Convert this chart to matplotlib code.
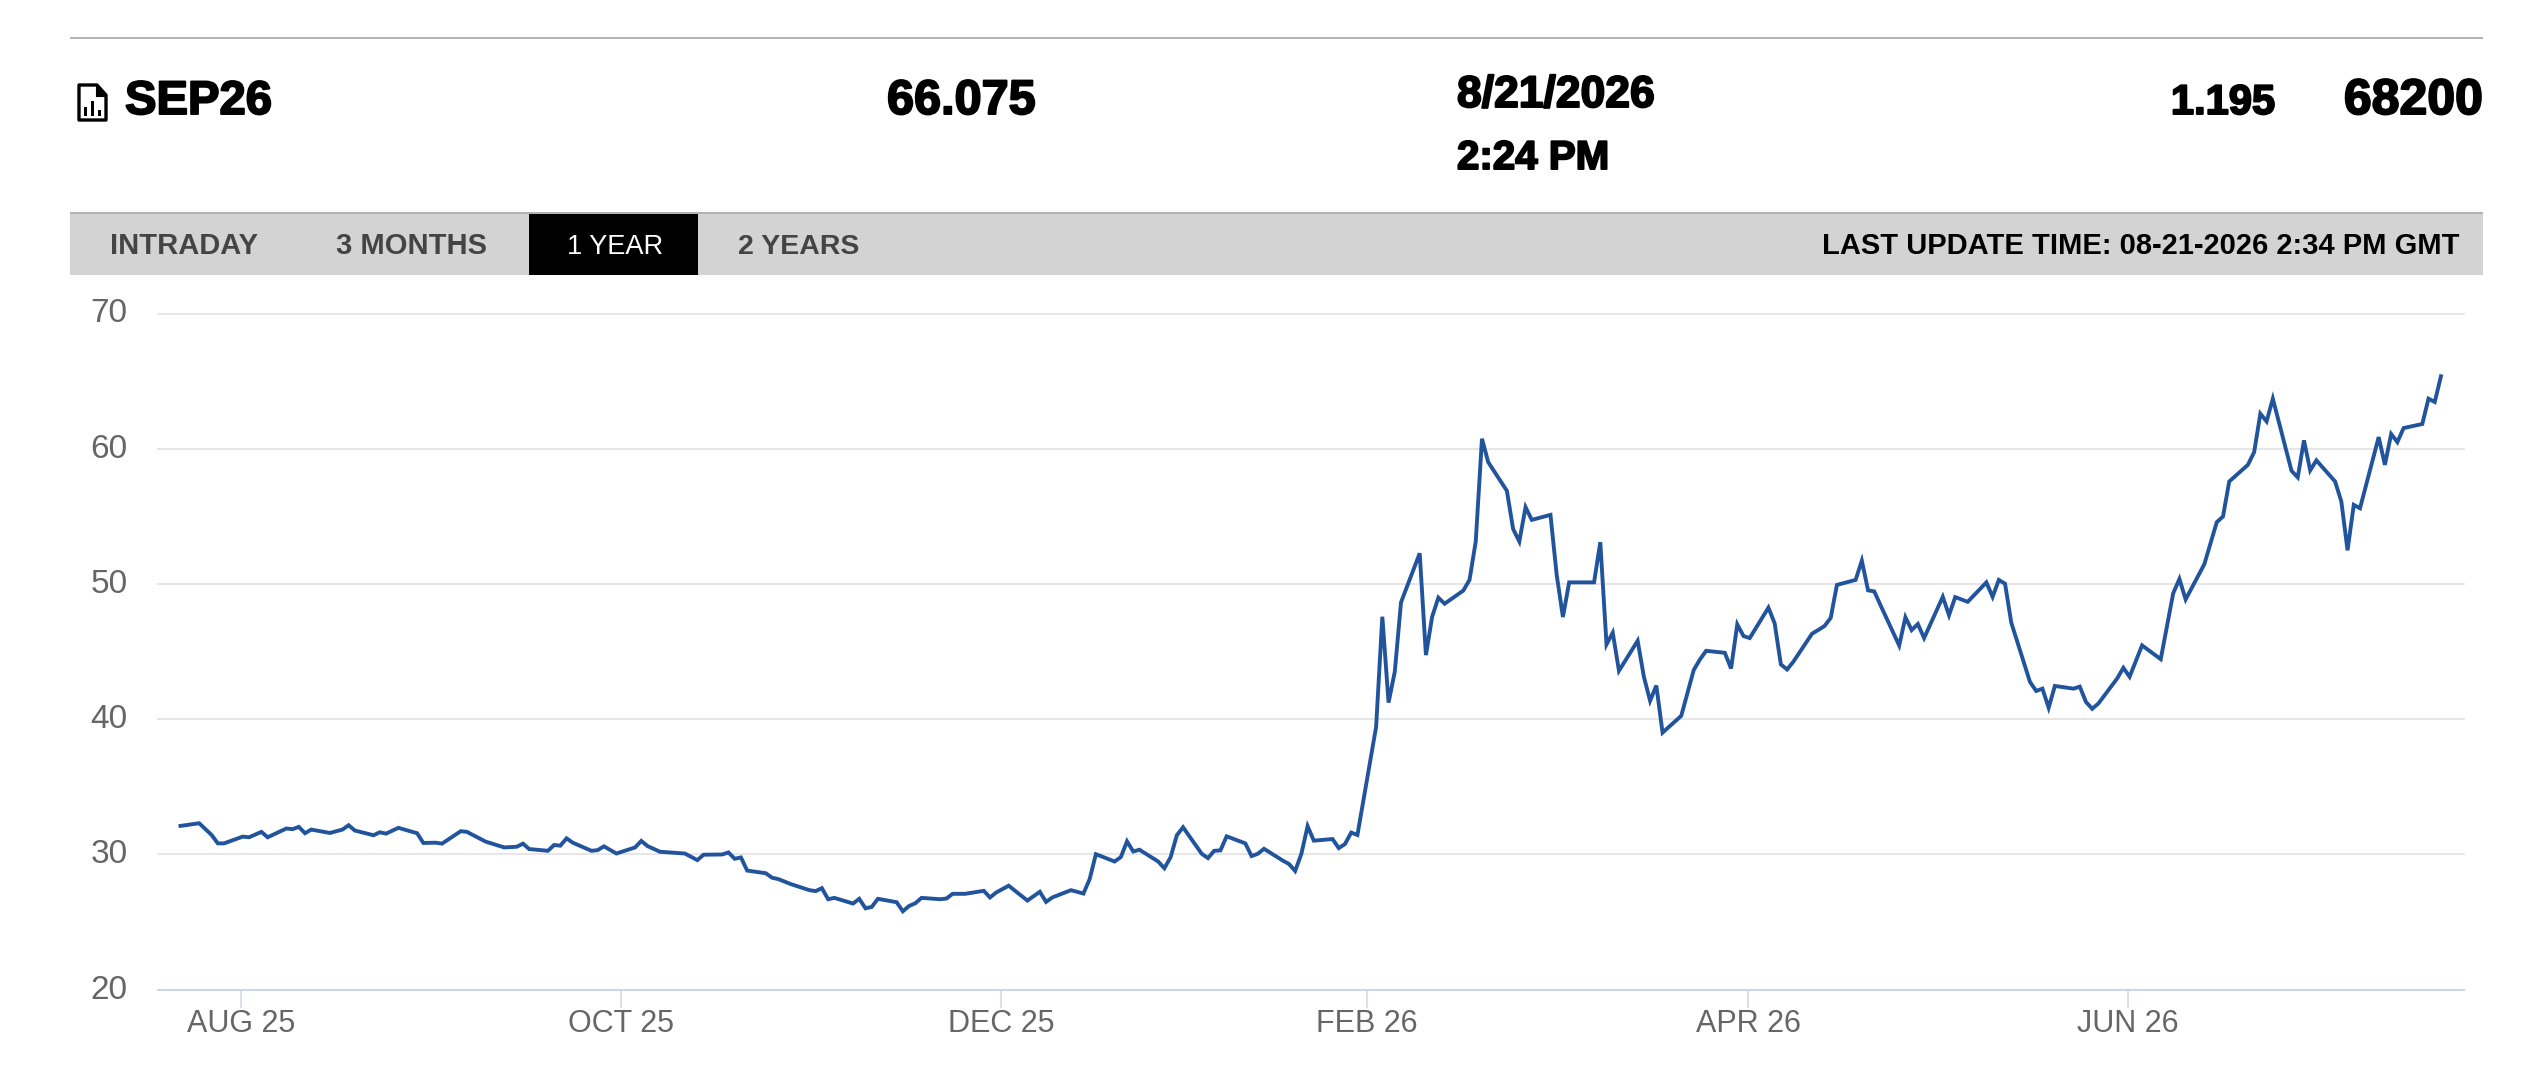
import numpy as np
import matplotlib
matplotlib.use("Agg")
import matplotlib.pyplot as plt
import matplotlib.dates as mdates
import matplotlib.patheffects as pe
from matplotlib.patches import Rectangle, Polygon
from matplotlib.transforms import ScaledTranslation

plt.rcParams["font.family"] = ["Liberation Sans", "DejaVu Sans"]

# days since the first quote
start_date = "2025-08-22"
day_offsets = [0, 3, 5, 6, 7, 10, 11, 13, 14, 17, 18, 19, 20, 21, 24, 26, 27, 28, 31, 32, 33, 35, 38, 39, 41, 42,
               45, 46, 49, 52, 54, 55, 56, 59, 60, 61, 62, 63, 66, 67, 68, 70, 73, 74, 75, 77, 81, 83, 84, 87, 88,
               89, 90, 91, 94, 95, 96, 98, 101, 102, 103, 104, 105, 108, 109, 110, 111, 112, 115, 116, 117, 118,
               119, 122, 123, 124, 126, 129, 130, 131, 133, 136, 138, 139, 140, 143, 145, 146, 147, 150, 151, 152,
               153, 154, 157, 158, 159, 160, 161, 164, 165, 166, 167, 168, 171, 172, 173, 174, 177, 178, 179, 180,
               181, 182, 185, 186, 187, 188, 189, 192, 193, 194, 195, 196, 199, 200, 201, 202, 203, 206, 207, 208,
               209, 210, 213, 214, 215, 216, 217, 220, 221, 222, 223, 227, 228, 229, 230, 231, 234, 235, 236, 237,
               238, 241, 243, 244, 245, 248, 249, 250, 251, 252, 255, 256, 257, 258, 259, 262, 263, 264, 265, 266,
               269, 270, 271, 272, 273, 276, 277, 278, 279, 280, 283, 284, 285, 287, 290, 291, 292, 293, 294, 297,
               298, 299, 300, 301, 304, 305, 306, 307, 308, 311, 312, 313, 315, 318, 320, 321, 322, 325, 327, 328,
               329, 332, 333, 334, 335, 336, 339, 340, 341, 342, 343, 346, 347, 348, 349, 350, 353, 354, 355, 356,
               357, 360, 361, 362, 363]
prices = [32.11, 32.31, 31.44, 30.82, 30.82, 31.32, 31.27, 31.67, 31.27, 31.92, 31.87, 32.04, 31.57, 31.84, 31.59,
          31.84, 32.16, 31.77, 31.42, 31.64, 31.54, 31.97, 31.57, 30.85, 30.87, 30.80, 31.72, 31.67, 30.95, 30.52,
          30.57, 30.80, 30.40, 30.27, 30.70, 30.65, 31.19, 30.87, 30.27, 30.32, 30.60, 30.07, 30.52, 31.00, 30.62,
          30.20, 30.07, 29.58, 29.98, 30.00, 30.15, 29.68, 29.78, 28.81, 28.61, 28.28, 28.18, 27.81, 27.36, 27.29,
          27.51, 26.69, 26.79, 26.37, 26.72, 26.02, 26.12, 26.72, 26.47, 25.80, 26.19, 26.39, 26.79, 26.69, 26.74,
          27.09, 27.09, 27.31, 26.82, 27.19, 27.69, 26.59, 27.24, 26.49, 26.82, 27.36, 27.11, 28.18, 30.02, 29.48,
          29.80, 30.97, 30.22, 30.35, 29.48, 28.98, 29.80, 31.42, 32.01, 30.05, 29.73, 30.27, 30.30, 31.34, 30.82,
          29.88, 30.05, 30.42, 29.55, 29.30, 28.78, 30.05, 32.09, 31.02, 31.14, 30.47, 30.77, 31.62, 31.44, 39.43,
          47.58, 41.23, 43.51, 48.64, 52.27, 44.74, 47.58, 48.99, 48.54, 49.51, 50.30, 53.14, 60.74, 59.01, 56.89,
          54.07, 53.14, 55.68, 54.74, 55.11, 50.67, 47.56, 50.12, 50.12, 53.09, 45.53, 46.40, 43.58, 45.80, 43.14,
          41.36, 42.49, 39.01, 40.25, 43.63, 44.42, 45.06, 44.91, 43.75, 47.01, 46.15, 46.00, 48.25, 47.09, 44.05,
          43.68, 44.25, 46.32, 46.60, 46.89, 47.49, 49.93, 50.30, 51.72, 49.53, 49.45, 48.43, 45.45, 47.54, 46.59,
          47.04, 46.00, 49.05, 47.69, 49.03, 48.68, 50.12, 49.05, 50.30, 50.02, 47.14, 42.76, 42.09, 42.26, 40.85,
          42.46, 42.26, 42.41, 41.27, 40.77, 41.17, 43.01, 43.80, 43.14, 45.46, 44.44, 49.31, 50.37, 48.86, 51.46,
          54.57, 54.99, 57.58, 58.81, 59.75, 62.59, 62.02, 63.70, 58.37, 57.88, 60.62, 58.40, 59.14, 57.58, 56.10,
          52.49, 55.85, 55.60, 60.86, 58.81, 61.09, 60.49, 61.53, 61.83, 63.70, 63.46, 65.36]

tick_dates = ["2025-08-31T18", "2025-10-31T18", "2025-12-31T18", "2026-02-28T12", "2026-04-30T18", "2026-06-30T18"]
tick_labels = ["AUG 25", "OCT 25", "DEC 25", "FEB 26", "APR 26", "JUN 26"]
y_ticks = [20, 30, 40, 50, 60, 70]

contract = "SEP26"
last_price = "66.075"
quote_date = "8/21/2026"
quote_time = "2:24 PM"
change = "1.195"
volume = "68200"
tabs = ["INTRADAY", "3 MONTHS", "2 YEARS"]
active_tab = "1 YEAR"
update_text = "LAST UPDATE TIME: 08-21-2026 2:34 PM GMT"

W, H = 2542, 1072
fig = plt.figure(figsize=(W / 100, H / 100), dpi=100, facecolor="white")

# page furniture, in pixel coordinates
bg = fig.add_axes([0, 0, 1, 1])
bg.set_xlim(0, W)
bg.set_ylim(H, 0)
bg.axis("off")
bg.add_patch(Rectangle((70, 36.5), 2413, 2, color="#b3b3b3", lw=0))
bg.add_patch(Rectangle((70, 212), 2413, 63, color="#d3d3d3", lw=0))
bg.add_patch(Rectangle((70, 211.5), 2413, 2.5, color="#b3b3b3", lw=0))
bg.add_patch(Rectangle((529, 214), 169, 61, color="black", lw=0))

# document icon
bg.add_patch(Polygon([(79, 85), (97, 85), (106, 95), (106, 120), (79, 120)], closed=True, fill=False,
                     ec="black", lw=2.4, joinstyle="round"))
bg.add_patch(Polygon([(96, 85), (96, 96), (106, 96)], closed=True, fc="black", ec="black", lw=0.8))
for bx, btop in [(84, 107), (91, 101), (98, 110)]:
    bg.add_patch(Rectangle((bx, btop), 3, 116 - btop, color="black", lw=0))

heavy = [pe.withStroke(linewidth=1.4, foreground="black")]


def head(x, y, s, size, ha="left"):
    bg.text(x, y, s, fontsize=size, fontweight="bold", color="black", ha=ha, va="baseline",
            path_effects=heavy)


head(125, 114, contract, 34)
head(887, 114, last_price, 35)
head(1457, 107, quote_date, 32)
head(1457, 169, quote_time, 29)
head(2275, 114, change, 30, ha="right")
head(2483, 114, volume, 36, ha="right")

tab_x = [110, 336, 738]
tab_sizes = [21, 21, 20.5]
for x, s, size in zip(tab_x, tabs, tab_sizes):
    bg.text(x, 254, s, fontsize=size, fontweight="bold", color="#444444", ha="left", va="baseline")
bg.text(567, 254, active_tab, fontsize=19.5, color="white", ha="left", va="baseline")
bg.text(2460, 254, update_text, fontsize=21, fontweight="bold", color="black", ha="right", va="baseline")

# chart
ax = fig.add_axes([158 / W, 1 - 989.7 / H, (2464 - 158) / W, (989.7 - 313.5) / H])
ax.patch.set_alpha(0)
dates = np.datetime64(start_date) + np.array(day_offsets)
ax.plot(dates, prices, color="#21549c", lw=2.8, solid_joinstyle="miter", clip_on=False)

start_num = mdates.date2num(np.datetime64(start_date))
ax.set_xlim(start_num - 3.61, start_num + 366.7)
ax.set_ylim(20, 70)
ax.set_yticks(y_ticks)
ax.set_xticks(mdates.date2num(np.array(tick_dates, dtype="datetime64[h]")))
ax.set_xticklabels(tick_labels)

for s in ["top", "left", "right"]:
    ax.spines[s].set_visible(False)
ax.spines["bottom"].set_color("#ccd6eb")
ax.spines["bottom"].set_linewidth(1.5)
ax.grid(axis="y", color="#e6e6e6", lw=1.4)
ax.set_axisbelow(True)
for g in ax.get_ygridlines():
    g.set_clip_on(False)
ax.get_ygridlines()[0].set_visible(False)
ax.tick_params(axis="y", length=0, pad=22, labelsize=24, labelcolor="#666666")
ax.tick_params(axis="x", length=13, width=1.1, color="#ccd6eb", pad=1, labelsize=22, labelcolor="#666666")

# y labels sit a little above their gridlines
for lab in ax.get_yticklabels():
    lab.set_transform(lab.get_transform() + ScaledTranslation(0, 0.03, fig.dpi_scale_trans))

fig.savefig("out.png", dpi=100)
